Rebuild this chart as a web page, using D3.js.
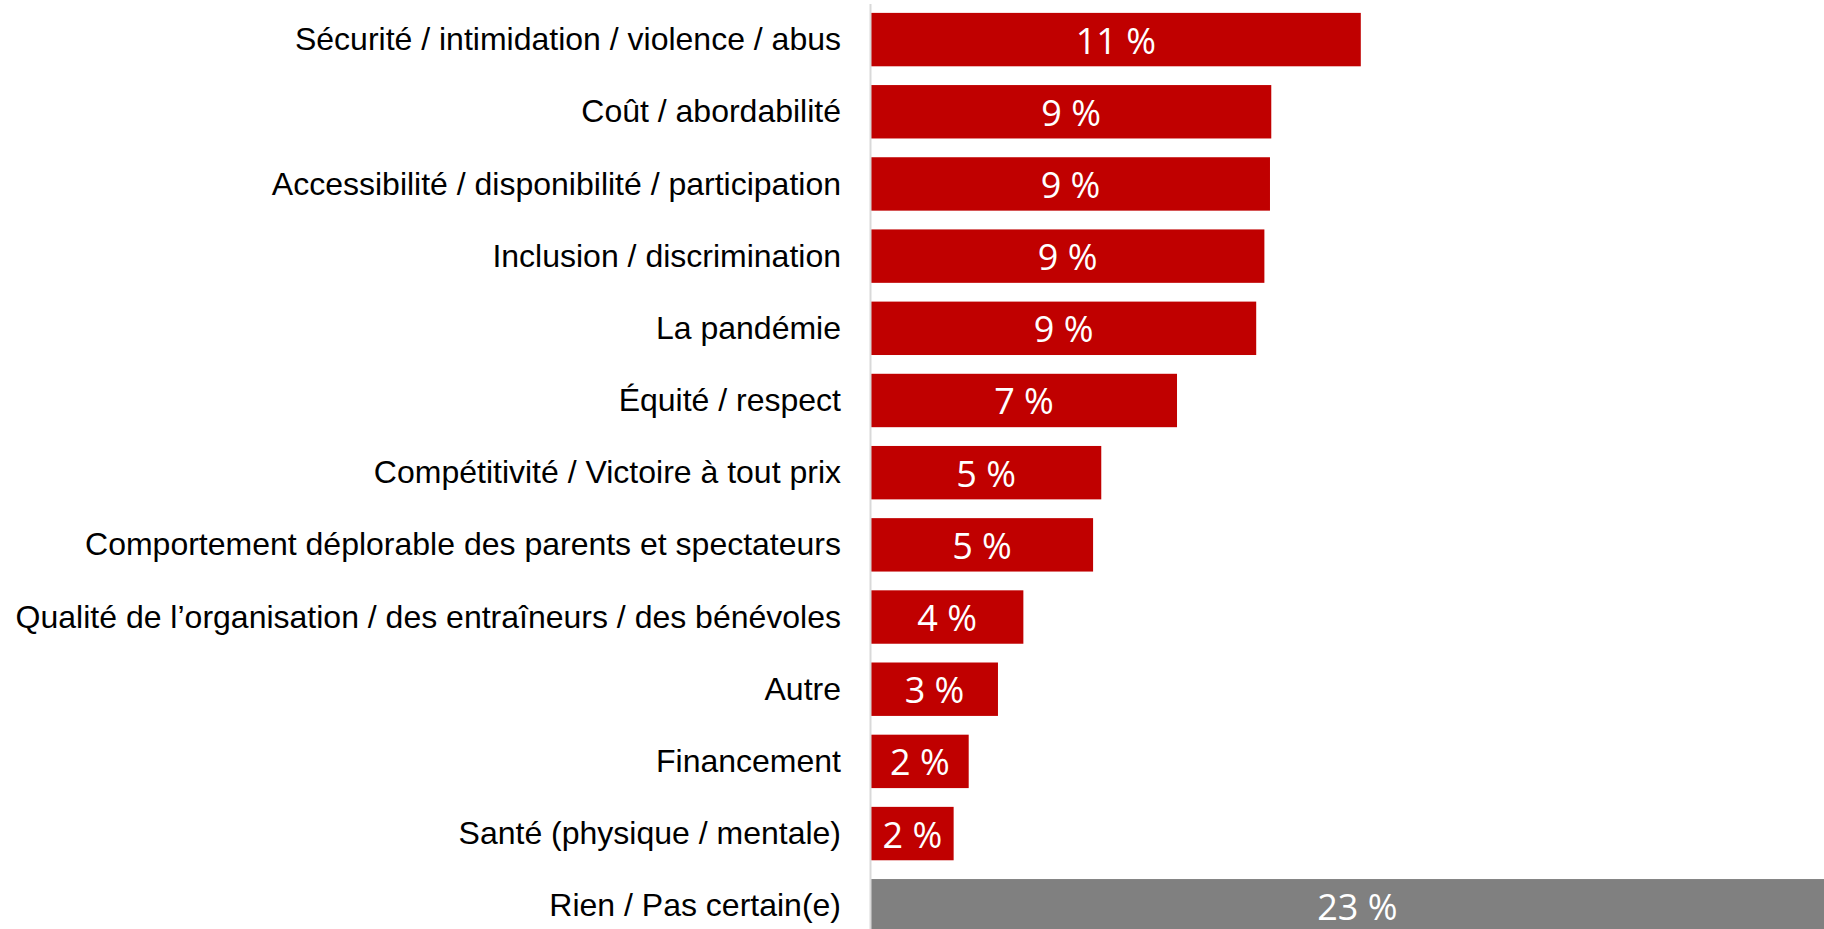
<!DOCTYPE html>
<html>
<head>
<meta charset="utf-8">
<script src="https://cdn.jsdelivr.net/npm/d3@7"></script>
<style>
  html, body { margin: 0; padding: 0; background: #fff; overflow: hidden; }
  svg { display: block; }
</style>
</head>
<body>
<svg id="chart" width="1824" height="929"></svg>
<script>
const categories = [
  "Sécurité / intimidation / violence / abus",
  "Coût / abordabilité",
  "Accessibilité / disponibilité / participation",
  "Inclusion / discrimination",
  "La pandémie",
  "Équité / respect",
  "Compétitivité / Victoire à tout prix",
  "Comportement déplorable des parents et spectateurs",
  "Qualité de l’organisation / des entraîneurs / des bénévoles",
  "Autre",
  "Financement",
  "Santé (physique / mentale)",
  "Rien / Pas certain(e)"
];
const values = [11.38, 9.30, 9.27, 9.14, 8.95, 7.11, 5.35, 5.16, 3.54, 2.95, 2.27, 1.92, 22.6];
const valueLabels = ["11 %", "9 %", "9 %", "9 %", "9 %", "7 %", "5 %", "5 %", "4 %", "3 %", "2 %", "2 %", "23 %"];
const highlight = [false, false, false, false, false, false, false, false, false, false, false, false, true];

const svg = d3.select("#chart");
const x0 = 871;
const pxPer = 43.04;
const x = d3.scaleLinear().domain([0, 23.5]).range([x0, x0 + 23.5 * pxPer]);
const y = d3.scaleBand().domain(categories).range([3.5, 3.5 + 13 * 72.18])
  .paddingInner(0.26).paddingOuter(0.13);

const data = categories.map((c, i) => ({ c, v: values[i], l: valueLabels[i], h: highlight[i] }));

svg.selectAll("rect.bar").data(data).join("rect")
  .attr("class", "bar")
  .attr("x", x(0))
  .attr("y", d => y(d.c))
  .attr("width", d => x(d.v) - x(0))
  .attr("height", y.bandwidth())
  .attr("fill", d => d.h ? "#808080" : "#C00000");

svg.selectAll("text.val").data(data).join("text")
  .attr("class", "val")
  .attr("x", d => (x(0) + x(d.v)) / 2)
  .attr("y", d => y(d.c) + y.bandwidth() / 2 + 14)
  .attr("text-anchor", "middle")
  .attr("fill", "#fff")
  .style("font-family", "'Open Sans', sans-serif")
  .style("font-size", "36px")
  .text(d => d.l);

const axis = d3.axisLeft(y).tickSize(0).tickPadding(29);
const g = svg.append("g").attr("transform", `translate(${x0 - 1},0)`).call(axis);
g.select(".domain").attr("stroke", "#d9d9d9").attr("stroke-width", 2);
g.selectAll(".tick text")
  .attr("fill", "#000")
  .attr("dy", "0.33em")
  .style("font-family", "'Liberation Sans', Arial, sans-serif")
  .style("font-size", "32px");
</script>
</body>
</html>
